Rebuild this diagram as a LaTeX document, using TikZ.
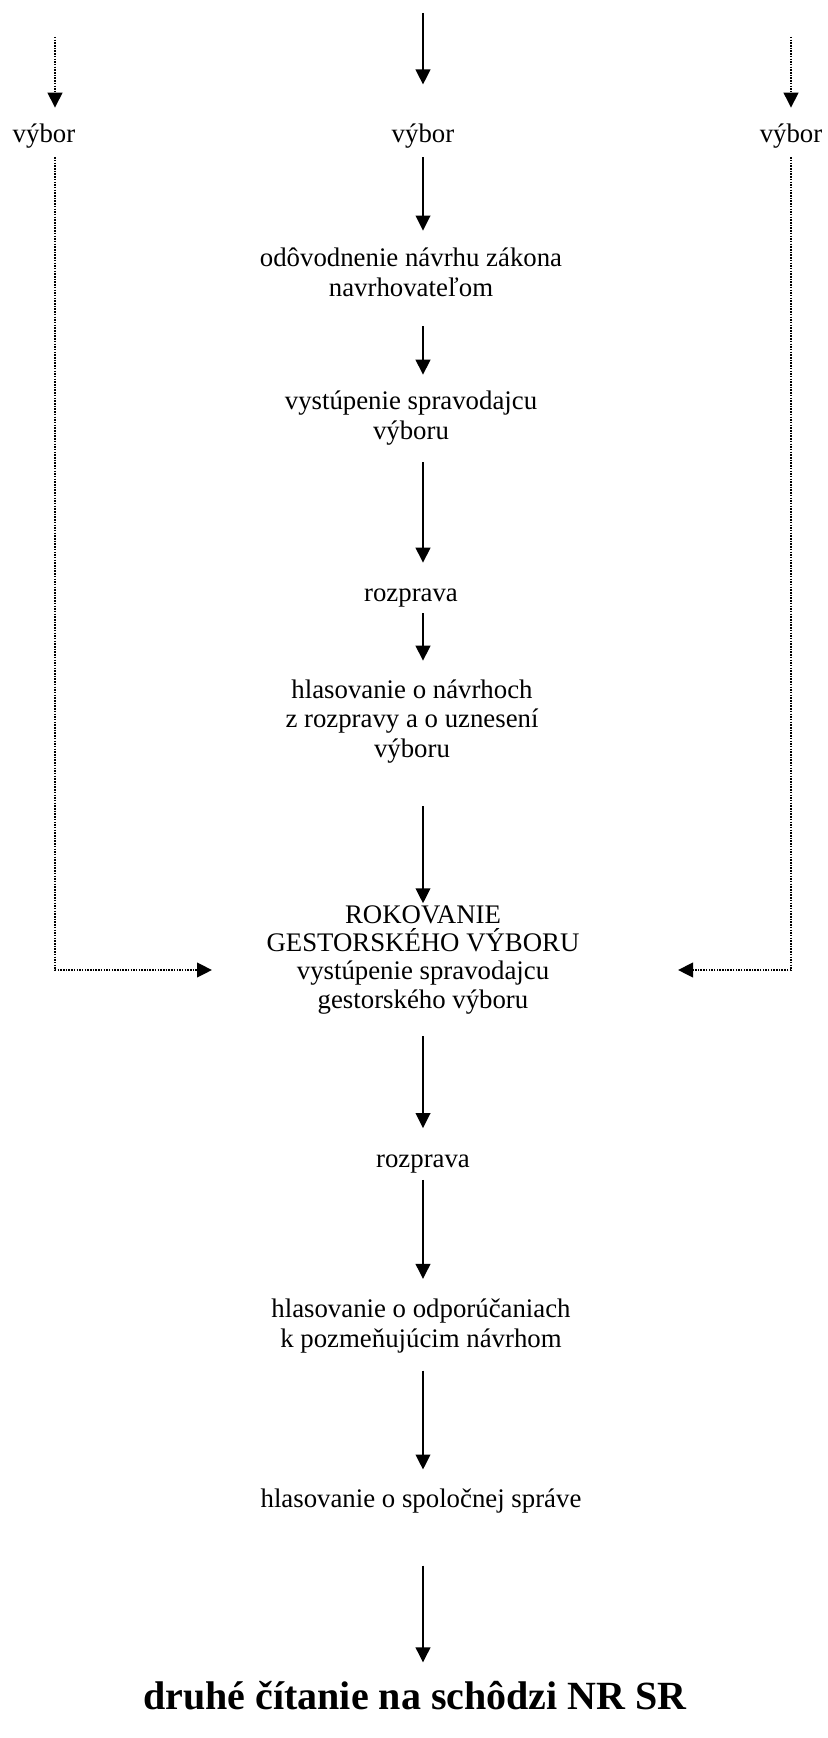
\documentclass[tikz,border=0pt]{standalone}
\usepackage{fontspec}
\setmainfont{Liberation Serif}
\usetikzlibrary{arrows.meta}

\begin{document}
\begin{tikzpicture}[x=0.5pt, y=-0.5pt, >={Triangle[length=7.5pt, width=7.3pt]},
  stage/.style={align=center, inner sep=0pt, font=\fontsize{13.4}{14.9}\selectfont,
    execute at begin node=\strut, execute at end node=\strut},
  flow/.style={->, line width=1pt},
  side/.style={->, line width=1pt, dash pattern=on 0.75pt off 0.6pt}]
\useasboundingbox (0,0) rectangle (828,1738);

\coordinate (srcL) at (55,37);
\coordinate (srcC) at (423,13);
\coordinate (srcR) at (791,37);

\node[stage] (vyborL) at (44,137) {výbor};
\node[stage] (vyborC) at (423,137) {výbor};
\node[stage] (vyborR) at (791,137) {výbor};
\node[stage] (odov) at (411,276.5) {odôvodnenie návrhu zákona\\navrhovateľom};
\node[stage] (sprav) at (411,420) {vystúpenie spravodajcu\\výboru};
\node[stage] (rozp1) at (411,596) {rozprava};
\node[stage] (hlas1) at (412,723) {hlasovanie o návrhoch\\z rozpravy a o uznesení\\výboru};
\node[stage, font=\fontsize{13.4}{14.2}\selectfont] (rok) at (423,961) {ROKOVANIE\\GESTORSKÉHO VÝBORU\\vystúpenie spravodajcu\\gestorského výboru};
\node[stage] (rozp2) at (423,1162) {rozprava};
\node[stage] (hlas2) at (421,1328) {hlasovanie o odporúčaniach\\k pozmeňujúcim návrhom};
\node[stage] (hlas3) at (421,1502) {hlasovanie o spoločnej správe};
\node[stage, font=\fontsize{20}{22}\selectfont\bfseries] (druhe) at (415,1701) {druhé čítanie na schôdzi NR SR};

\coordinate (inL) at (212,970);
\coordinate (inR) at (678,970);

% hlavny tok
\draw[flow, shorten >=18.6pt] (srcC) -- (srcC |- vyborC.north);
\draw[flow, shorten <=2.6pt, shorten >=8.4pt] (vyborC.south) -- (srcC |- odov.north);
\draw[flow, shorten <=10.35pt, shorten >=8.1pt] (srcC |- odov.south) -- (srcC |- sprav.north);
\draw[flow, shorten <=6.6pt, shorten >=9pt] (srcC |- sprav.south) -- (srcC |- rozp1.north);
\draw[flow, shorten <=1pt, shorten >=9.15pt] (srcC |- rozp1.south) -- (srcC |- hlas1.north);
\draw[flow, shorten <=19.65pt, shorten >=0.8pt] (srcC |- hlas1.south) -- (rok.north);
\draw[flow, shorten <=9.6pt, shorten >=9.3pt] (rok.south) -- (rozp2.north);
\draw[flow, shorten <=1.25pt, shorten >=10pt] (rozp2.south) -- (srcC |- hlas2.north);
\draw[flow, shorten <=6.7pt, shorten >=8.6pt] (srcC |- hlas2.south) -- (srcC |- hlas3.north);
\draw[flow, shorten <=24.2pt, shorten >=8.1pt] (srcC |- hlas3.south) -- (srcC |- druhe.north);

% ostatne vybory
\draw[side, shorten >=7pt] (srcL) -- (srcL |- vyborL.north);
\draw[side, shorten >=7pt] (srcR) -- (srcR |- vyborR.north);
\draw[side, shorten <=2.5pt] (srcL |- vyborL.south) |- (inL);
\draw[side, shorten <=2.5pt] (vyborR.south) |- (inR);
\end{tikzpicture}
\end{document}
